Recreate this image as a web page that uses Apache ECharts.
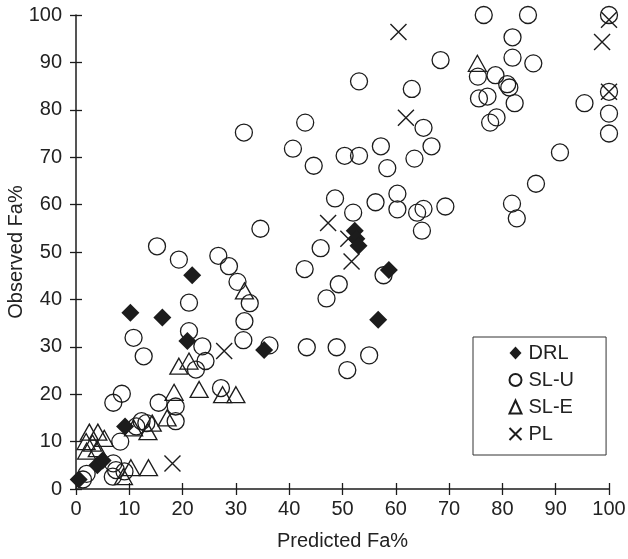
<!DOCTYPE html>
<html>
<head>
<meta charset="utf-8">
<script src="https://cdn.jsdelivr.net/npm/echarts@6/dist/echarts.min.js"></script>
<style>
  html, body { margin: 0; padding: 0; background: #fff; }
  #chart { width: 628px; height: 559px; }
</style>
</head>
<body>
<div id="chart"></div>
<script>
// Predicted vs observed Fa% for four methods
const seriesNames = ['DRL', 'SL-U', 'SL-E', 'PL'];

const drlPoints = [
  [0.5, 2], [4, 5], [5, 6], [9.2, 13.2], [10.2, 37.2], [16.2, 36.2],
  [21.8, 45.1], [20.9, 31.2], [35.3, 29.3], [52.3, 54.5], [52.6, 52.8],
  [53, 51.3], [58.7, 46.2], [56.7, 35.7]
];

const sluPoints = [
  [1.3, 2], [2, 3.2], [6.9, 2.6], [7.5, 4], [9.1, 3.7], [7, 5.4],
  [8.3, 10], [11.3, 13.2], [13.2, 13.9], [12.3, 14.3], [18.7, 14.3],
  [15.5, 18.2], [18.7, 17.4], [7, 18.2], [8.6, 20.1], [10.8, 31.9],
  [12.7, 28], [21.2, 33.3], [21.2, 39.3], [23.7, 30.1], [24.3, 27],
  [22.5, 25.2], [27.2, 21.3], [31.6, 35.4], [31.4, 31.4], [32.6, 39.2],
  [36.3, 30.3], [15.2, 51.2], [19.3, 48.4], [26.7, 49.2], [28.7, 47],
  [30.3, 43.7], [34.6, 54.9], [31.5, 75.2],
  [42.9, 46.4], [45.9, 50.8], [49.3, 43.2], [47, 40.2], [43.3, 29.9],
  [48.9, 29.9], [50.9, 25.1], [55, 28.2], [57.7, 45.1], [48.6, 61.3],
  [52, 58.3], [56.2, 60.5], [60.3, 62.3], [60.3, 59], [64, 58.3],
  [65.2, 59.1], [64.9, 54.5], [69.3, 59.6],
  [43, 77.3], [40.7, 71.8], [44.6, 68.2], [50.4, 70.3], [53.1, 70.3],
  [57.2, 72.3], [66.7, 72.3], [63.5, 69.7], [58.4, 67.7], [65.2, 76.2],
  [53.1, 86], [63, 84.4], [68.4, 90.5], [75.4, 87], [75.6, 82.4],
  [76.5, 100], [84.8, 100], [100, 100], [81.9, 95.3], [81.9, 91],
  [85.8, 89.8], [78.7, 87.3], [80.9, 85.4], [81.3, 84.7], [77.2, 82.8],
  [82.3, 81.4], [78.9, 78.4], [77.7, 77.3], [100, 83.8], [100, 79.2],
  [100, 75], [95.4, 81.4], [90.8, 71], [86.3, 64.4], [81.8, 60.2],
  [82.7, 57.1]
];

const slePoints = [
  [1.9, 10], [2.5, 12], [3.1, 9.7], [4.1, 12], [5.3, 10.7], [2, 8],
  [4, 8.5], [8.9, 2.6], [10.3, 4.5], [13.6, 4.5], [10.8, 12.9],
  [13.5, 12.1], [14.3, 13.9], [17.1, 15], [18.4, 20.4], [23.1, 21],
  [27.5, 19.9], [30, 19.9], [19.3, 25.9], [21.2, 27], [31.6, 41.8],
  [75.3, 89.8]
];

const plPoints = [
  [18.1, 5.4], [27.8, 29.1], [47.3, 56.1], [51.1, 52.8], [51.7, 48],
  [60.5, 96.4], [61.9, 78.3], [98.7, 94.3], [100, 99], [100, 83.8]
];

const tickValues = [0, 10, 20, 30, 40, 50, 60, 70, 80, 90, 100];

const INK = '#1c1c1c';
const TEXT = '#222';
const FONT = 'Liberation Sans, Arial, Helvetica, sans-serif';
const FONT_SIZE = 20;
const CROSS = 'path://M0,0L10,10M10,0L0,10';

const openStyle = { color: 'rgba(0,0,0,0)', borderColor: INK, borderWidth: 1.3, opacity: 1 };

function valueAxis(extra) {
  return Object.assign({
    type: 'value',
    min: tickValues[0],
    max: tickValues[tickValues.length - 1],
    interval: tickValues[1] - tickValues[0],
    splitLine: { show: false }
  }, extra);
}

const chart = echarts.init(document.getElementById('chart'), null, { renderer: 'canvas' });

chart.setOption({
  animation: false,
  backgroundColor: '#fff',
  grid: { left: 76, right: 19, top: 15, bottom: 70, containLabel: false, outerBoundsMode: 'none' },
  xAxis: [
    valueAxis({
      position: 'bottom',
      name: 'Predicted Fa%',
      nameLocation: 'middle',
      nameGap: 42,
      nameMoveOverlap: false,
      nameTextStyle: { fontSize: FONT_SIZE, color: TEXT, fontFamily: FONT },
      axisLine: { show: true, lineStyle: { color: INK, width: 1.5 } },
      axisTick: { show: true, inside: false, length: 6, lineStyle: { color: INK, width: 1.3 } },
      axisLabel: { fontSize: FONT_SIZE, color: TEXT, fontFamily: FONT, margin: 10 }
    }),
    valueAxis({
      position: 'bottom',
      axisLine: { show: false },
      axisTick: { show: true, inside: true, length: 6, lineStyle: { color: INK, width: 1.3 } },
      axisLabel: { show: false }
    })
  ],
  yAxis: [
    valueAxis({
      position: 'left',
      name: 'Observed Fa%',
      nameLocation: 'middle',
      nameGap: 50,
      nameMoveOverlap: false,
      nameTextStyle: { fontSize: FONT_SIZE, color: TEXT, fontFamily: FONT },
      axisLine: { show: true, lineStyle: { color: INK, width: 1.5 } },
      axisTick: { show: true, inside: false, length: 6, lineStyle: { color: INK, width: 1.3 } },
      axisLabel: { fontSize: FONT_SIZE, color: TEXT, fontFamily: FONT, margin: 14 }
    }),
    valueAxis({
      position: 'left',
      axisLine: { show: false },
      axisTick: { show: true, inside: true, length: 6, lineStyle: { color: INK, width: 1.3 } },
      axisLabel: { show: false }
    })
  ],
  legend: {
    orient: 'vertical',
    left: 473,
    top: 337,
    data: seriesNames,
    itemWidth: 12,
    itemHeight: 13,
    itemGap: 7,
    padding: [6, 32, 11, 34],
    borderColor: '#333',
    borderWidth: 1,
    textStyle: { fontSize: FONT_SIZE, color: TEXT, fontFamily: FONT, padding: [0, 0, 0, 2] },
    selectedMode: false
  },
  series: [
    {
      name: seriesNames[0],
      type: 'scatter',
      data: drlPoints,
      symbol: 'diamond',
      symbolSize: 18,
      itemStyle: { color: INK, borderWidth: 0, opacity: 1 },
      z: 5
    },
    {
      name: seriesNames[1],
      type: 'scatter',
      data: sluPoints,
      symbol: 'circle',
      symbolSize: 17,
      itemStyle: openStyle,
      z: 3
    },
    {
      name: seriesNames[2],
      type: 'scatter',
      data: slePoints,
      symbol: 'triangle',
      symbolSize: [18, 16],
      itemStyle: openStyle,
      z: 4
    },
    {
      name: seriesNames[3],
      type: 'scatter',
      data: plPoints,
      symbol: CROSS,
      symbolSize: 16,
      itemStyle: { color: 'none', borderColor: INK, borderWidth: 1.4, opacity: 1 },
      z: 4
    }
  ]
});
</script>
</body>
</html>
